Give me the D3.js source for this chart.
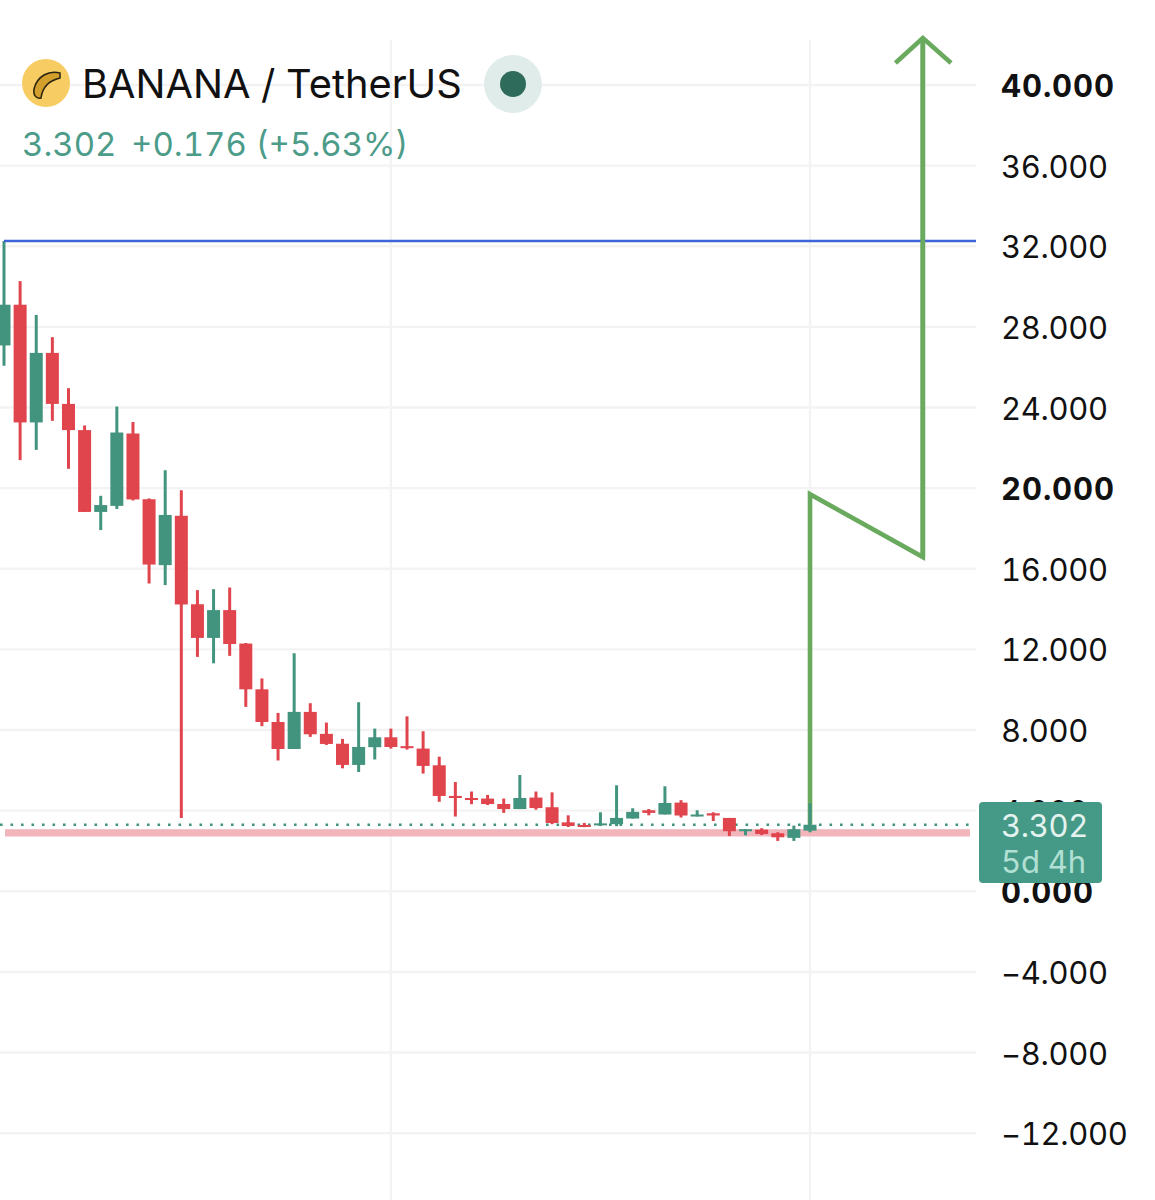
<!DOCTYPE html>
<html><head><meta charset="utf-8">
<script src="https://cdn.jsdelivr.net/npm/d3@7"></script>
<style>html,body{margin:0;padding:0;background:#fff}svg{display:block;font-family:Inter,"Noto Sans",sans-serif;font-variant-numeric:tabular-nums;font-feature-settings:"tnum" 1}</style>
</head><body><svg id="c" width="1155" height="1200"></svg>
<script>
const opens  = [27.08,29.10,23.26,26.71,24.18,22.88,18.82,19.12,22.71,19.45,16.18,18.63,14.24,12.57,13.95,12.29,10.02,8.40,7.06,8.90,7.81,7.32,6.27,7.15,7.64,7.20,7.08,6.25,4.73,4.63,4.60,4.33,4.08,4.65,4.17,3.42,3.29,3.28,3.33,3.61,4.02,3.81,4.40,3.71,3.87,3.64,2.98,3.06,2.88,2.65,3.01];
const closes = [29.10,23.26,26.71,24.18,22.88,18.82,19.16,22.76,19.44,16.21,18.67,14.23,12.57,13.95,12.27,10.02,8.40,7.06,8.90,7.79,7.31,6.27,7.16,7.64,7.16,7.11,6.22,4.73,4.63,4.53,4.33,4.08,4.63,4.13,3.39,3.24,3.19,3.37,3.64,3.94,3.89,4.38,3.76,3.81,3.76,2.98,3.08,2.84,2.68,3.08,3.302];
const highs  = [32.26,30.27,28.59,27.49,24.96,23.11,19.62,24.05,23.28,19.49,20.89,19.90,14.94,14.99,15.07,12.32,10.56,8.85,11.81,9.33,8.37,7.56,9.38,8.07,8.07,8.68,7.94,6.68,5.42,4.95,4.78,4.60,5.77,4.95,4.91,3.77,3.39,3.92,5.26,4.12,4.08,5.21,4.52,4.02,3.92,3.64,3.08,3.13,2.93,3.26,4.37];
const lows   = [26.07,21.39,21.90,23.34,20.96,18.82,17.92,18.97,19.39,15.27,15.19,3.64,11.63,11.31,11.68,9.15,8.19,6.49,7.06,7.66,7.26,6.10,5.92,6.54,7.08,7.03,5.84,4.44,3.71,4.32,4.28,3.89,4.08,4.05,3.33,3.19,3.18,3.24,3.23,3.61,3.77,3.81,3.66,3.71,3.49,2.74,2.78,2.79,2.50,2.50,2.93];
const yTicks = [40,36,32,28,24,20,16,12,8,4,0,-4,-8,-12];
const boldTicks = [40,20,0];
const vGrid = [24,50];
const resistance = 32.26;
const support = [2.72,3.08];
const lastPrice = 3.302;
const pathIdx = [50,50,57,57];
const pathVal = [3.3,19.70,16.58,42.33];
const headIdx = [55.3,57,58.75];
const headVal = [41.09,42.33,41.09];

const svg = d3.select("#c");
const x = d3.scaleLinear().domain([0,50]).range([4,810]);
const y = d3.scaleLinear().domain([0,40]).range([891.3,85]);
const RED="#e0444d", GREEN="#42947f";
const fmt = v => (v<0?"\u2212":"")+d3.format(".3f")(Math.abs(v));

// grid
svg.append("g").selectAll("line").data(yTicks).join("line")
  .attr("x1",0).attr("x2",976).attr("y1",d=>y(d)).attr("y2",d=>y(d))
  .attr("stroke","#f3f3f3").attr("stroke-width",2.4);
svg.append("g").selectAll("line").data(vGrid).join("line")
  .attr("x1",d=>x(d)).attr("x2",d=>x(d)).attr("y1",40).attr("y2",1200)
  .attr("stroke","#f3f3f3").attr("stroke-width",2.4);

// axis
const ax = svg.append("g").attr("transform","translate(990,0)")
  .call(d3.axisRight(y).tickValues(yTicks).tickSize(0).tickPadding(11).tickFormat(fmt));
ax.select(".domain").remove();
ax.selectAll("text").attr("font-family","Inter").attr("font-size",31).attr("fill","#111")
  .attr("dy","0.37em").attr("x",11)
  .style("letter-spacing",d=>boldTicks.includes(d)?"0.9px":"-0.35px")
  .attr("font-weight",d=>boldTicks.includes(d)?700:400);

// support band, last price dots
svg.append("rect").attr("x",5).attr("width",965).attr("y",y(support[1])).attr("height",y(support[0])-y(support[1])).attr("fill","#f2b5bc");
svg.append("line").attr("x1",0).attr("x2",976).attr("y1",y(lastPrice)).attr("y2",y(lastPrice))
  .attr("stroke",GREEN).attr("stroke-width",2.6).attr("stroke-dasharray","2.6 7.9");

// arrow (beneath the candles)
const ln = d3.line().x(d=>x(d[0])).y(d=>y(d[1]));
svg.append("path").attr("d",ln(d3.zip(pathIdx,pathVal))).attr("fill","none").attr("stroke","#69aa5e").attr("stroke-width",4.6).attr("stroke-linejoin","miter");
svg.append("path").attr("d",ln(d3.zip(headIdx,headVal))).attr("fill","none").attr("stroke","#69aa5e").attr("stroke-width",4.6);

// candles
const idx = d3.range(opens.length);
const g = svg.append("g");
g.selectAll("line").data(idx).join("line")
  .attr("x1",i=>x(i)).attr("x2",i=>x(i)).attr("y1",i=>y(highs[i])).attr("y2",i=>y(lows[i]))
  .attr("stroke",i=>closes[i]>=opens[i]?GREEN:RED).attr("stroke-width",3);
g.selectAll("rect").data(idx).join("rect")
  .attr("x",i=>x(i)-6.5).attr("width",13)
  .attr("y",i=>y(Math.max(opens[i],closes[i])))
  .attr("height",i=>Math.max(2,Math.abs(y(opens[i])-y(closes[i]))))
  .attr("fill",i=>closes[i]>=opens[i]?GREEN:RED);

// resistance
svg.append("line").attr("x1",x(0)).attr("x2",976).attr("y1",y(resistance)).attr("y2",y(resistance))
  .attr("stroke","#3f63d9").attr("stroke-width",2.6);
// redraw the rising leg above the resistance line
svg.append("path").attr("d",ln(d3.zip(pathIdx.slice(2),pathVal.slice(2)))).attr("fill","none").attr("stroke","#69aa5e").attr("stroke-width",4.6);

// price tag
svg.append("rect").attr("x",979).attr("y",802).attr("width",123).attr("height",81).attr("rx",4).attr("fill","#459a87");
svg.append("text").attr("x",1001).attr("y",837).attr("font-size",31).style("letter-spacing","-0.35px").attr("fill","#e4f3ef").text(d3.format(".3f")(lastPrice));
svg.append("text").attr("x",1001).attr("y",873).attr("font-size",31).style("letter-spacing","-0.2px").attr("fill","#b2e0d4").text("5d 4h");

// header
svg.append("circle").attr("cx",46).attr("cy",83).attr("r",24).attr("fill","#f7cc62");
svg.append("path").attr("d","M60 73 C49 70 37 76 34 89 C33 95 36 99 41 98 C42 90 47 81 60 78 Z").attr("fill","#d29f2c").attr("stroke","#2a2310").attr("stroke-width",1.5);
svg.append("text").attr("x",82).attr("y",98).attr("font-size",39.8).attr("fill","#111").text("BANANA / TetherUS");
svg.append("text").attr("x",22).attr("y",156).attr("font-size",33).attr("fill","#4c9c89").text("3.302");
svg.append("text").attr("x",131).attr("y",156).attr("font-size",33).attr("fill","#4c9c89").text("+0.176 (+5.63%)");
svg.append("circle").attr("cx",513).attr("cy",84).attr("r",29).attr("fill","#dfecea");
svg.append("circle").attr("cx",513).attr("cy",84).attr("r",13).attr("fill","#2f6b5a");
</script></body></html>
